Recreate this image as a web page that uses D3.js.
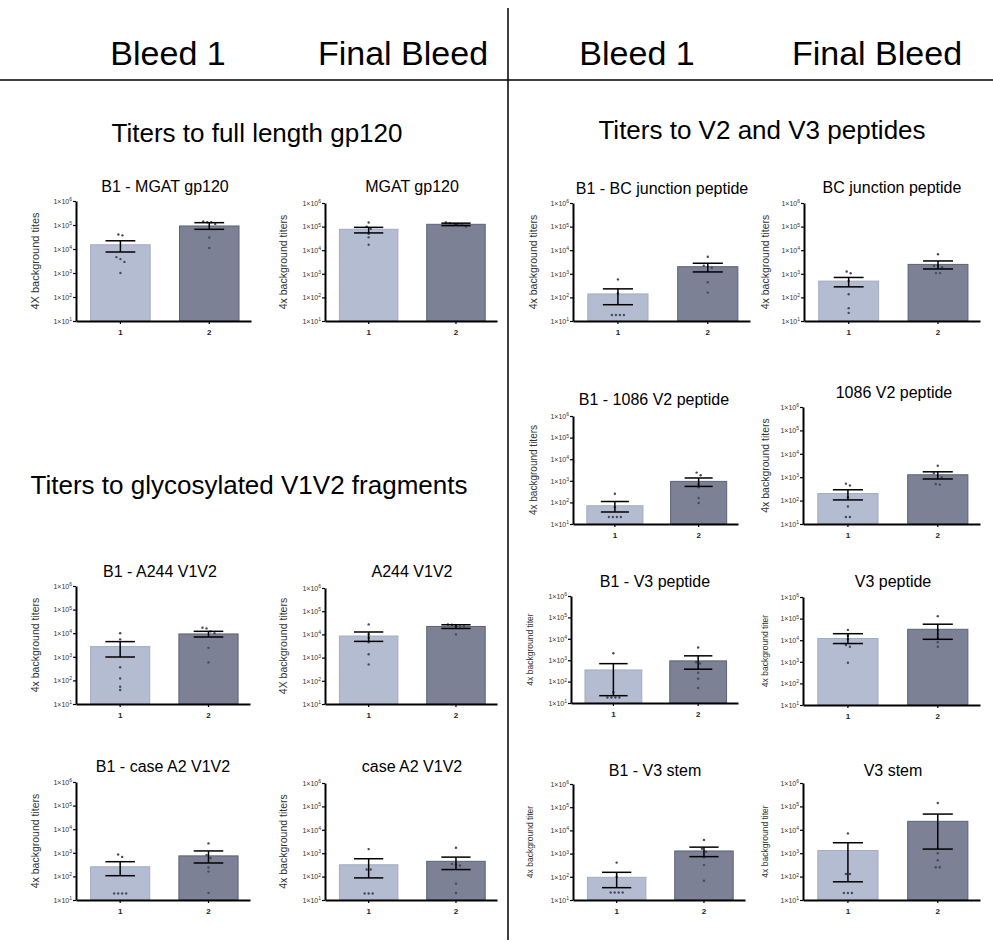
<!DOCTYPE html>
<html>
<head>
<meta charset="utf-8">
<script src="https://cdn.jsdelivr.net/npm/d3@7"></script>
<style>
    body {margin: 0; background: #fff;}
    svg {font-family: "Liberation Sans", Arial, sans-serif;}
</style>
</head>
<body>
<svg id="chart" width="993" height="950"></svg>
<script>
// values (titers, log scale)
const groups = ["1", "2"]
const yTicks = [1e1, 1e2, 1e3, 1e4, 1e5, 1e6]

const panelTitles = [
    "B1 - MGAT gp120", "MGAT gp120",
    "B1 - BC junction peptide", "BC junction peptide",
    "B1 - 1086 V2 peptide", "1086 V2 peptide",
    "B1 - A244 V1V2", "A244 V1V2",
    "B1 - V3 peptide", "V3 peptide",
    "B1 - case A2 V1V2", "case A2 V1V2",
    "B1 - V3 stem", "V3 stem"
]

const yLabels = [
    "4X background tites", "4x background titers",
    "4x background titers", "4x background titers",
    "4x background titers", "4x background titers",
    "4x background titers", "4X background titers",
    "4x background titer", "4x background titer",
    "4x background titers", "4x background titers",
    "4x background titer", "4x background titer"
]

const barMeans = [
    [1.5e4, 9.1e4], [7.7e4, 1.25e5],
    [1.4e2, 2.0e3], [4.9e2, 2.5e3],
    [70, 9.4e2], [2.0e2, 1.27e3],
    [2.7e3, 9.3e3], [8.5e3, 2.2e4],
    [3.5e2, 9.3e2], [1.2e4, 3.2e4],
    [2.55e2, 7.4e2], [3.2e2, 4.5e2],
    [95, 1.3e3], [1.3e3, 2.3e4]
]

const errLow = [
    [7.5e3, 6.6e4], [5.4e4, 1.1e5],
    [49, 1.2e3], [2.8e2, 1.6e3],
    [36, 5.5e2], [1.07e2, 8.4e2],
    [9.8e2, 6.9e3], [5.0e3, 1.8e4],
    [22, 3.8e2], [7.0e3, 1.1e4],
    [1.07e2, 3.7e2], [88, 2.0e2],
    [34, 7.4e2], [60, 1.5e3]
]

const errHigh = [
    [2.2e4, 1.25e5], [9.3e4, 1.4e5],
    [2.3e2, 2.8e3], [7.0e2, 3.5e3],
    [1.1e2, 1.35e3], [2.9e2, 1.7e3],
    [4.4e3, 1.2e4], [1.27e4, 2.6e4],
    [6.9e2, 1.6e3], [2.0e4, 5.5e4],
    [4.2e2, 1.2e3], [5.8e2, 6.8e2],
    [1.56e2, 1.9e3], [2.8e3, 4.7e4]
]

const points = [
    [[4e4, 3.7e4, 4.6e3, 3.8e3, 2.9e3, 1.0e3], [1.4e5, 1.3e5, 1.3e5, 1.1e5, 3e4, 1.1e4]],
    [[1.5e5, 1.0e5, 8e4, 5e4, 3.5e4, 1.7e4], [1.5e5, 1.4e5, 1.3e5, 1.3e5, 1.2e5, 1.0e5]],
    [[5.8e2, 1.5e2, 18, 18, 18, 18], [5.3e3, 2.2e3, 2.0e3, 1.8e3, 4.4e2, 1.6e2]],
    [[1.26e3, 1.05e3, 5e2, 1.35e2, 35, 22], [6.7e3, 2.2e3, 2.2e3, 1.9e3, 1.07e3, 1.07e3]],
    [[2.5e2, 60, 21, 21, 21, 21], [2.4e3, 1.8e3, 7e2, 5e2, 1.6e2, 94]],
    [[5.3e2, 4.4e2, 1.4e2, 56, 20, 20], [3.1e3, 1.5e3, 1.2e3, 1.0e3, 5.1e2, 4.8e2]],
    [[1e4, 5.5e3, 3.6e2, 1.2e2, 54, 39], [1.7e4, 1.6e4, 1.2e4, 1e4, 2.4e3, 5.8e2]],
    [[2.7e4, 1e4, 7e3, 4.6e3, 1.4e3, 5.1e2], [2.7e4, 2.6e4, 2.5e4, 2.2e4, 2.2e4, 1.0e4]],
    [[2.1e3, 32, 18, 18, 18, 18], [3.9e3, 8e2, 7e2, 2.6e2, 1.35e2, 50]],
    [[3e4, 1.6e4, 1.1e4, 6e3, 5e3, 9e2], [1.3e5, 3e4, 2e4, 1.3e4, 8e3, 5e3]],
    [[8.5e2, 6.7e2, 19, 19, 19, 19], [2.5e3, 8e2, 6e2, 2.4e2, 1.6e2, 20]],
    [[1.5e3, 2e2, 2e2, 19, 19, 19], [1.7e3, 3.5e2, 3.3e2, 3e2, 50, 20]],
    [[4.1e2, 1e2, 21, 21, 21, 21], [3.9e3, 1.6e3, 1.2e3, 7e2, 3.2e2, 68]],
    [[7e3, 1.3e2, 1.3e2, 20, 20, 20], [1.4e5, 1.6e3, 1.0e3, 5e2, 2.5e2, 2.5e2]]
]

// layout of each small chart: axis x, axis end, top, bottom, title x, title baseline, label x, label size
const frames = [
    {x: 76, end: 251, top: 201, bottom: 321, tx: 165, ty: 192, lx: 35, ls: 11},
    {x: 325, end: 497, top: 203, bottom: 321, tx: 412, ty: 192, lx: 283, ls: 10.5},
    {x: 573, end: 750, top: 203, bottom: 321, tx: 662, ty: 194, lx: 533, ls: 10.5},
    {x: 804, end: 980, top: 203, bottom: 321, tx: 892, ty: 193, lx: 765, ls: 10.5},
    {x: 573, end: 738, top: 416, bottom: 524, tx: 654, ty: 405, lx: 533, ls: 10},
    {x: 803, end: 980, top: 407, bottom: 524, tx: 894, ty: 398, lx: 765, ls: 10.5},
    {x: 76, end: 250, top: 586, bottom: 704, tx: 160, ty: 577, lx: 35, ls: 10.5},
    {x: 325, end: 497, top: 588, bottom: 704, tx: 412, ty: 577, lx: 283, ls: 10.5},
    {x: 571, end: 738, top: 596, bottom: 703, tx: 655, ty: 587, lx: 530, ls: 8.5},
    {x: 803, end: 980, top: 597, bottom: 705, tx: 893, ty: 587, lx: 765, ls: 8.5},
    {x: 76, end: 250, top: 782, bottom: 900, tx: 163, ty: 772, lx: 35, ls: 10.5},
    {x: 325, end: 497, top: 783, bottom: 900, tx: 412, ty: 772, lx: 283, ls: 10.5},
    {x: 573, end: 745, top: 784, bottom: 900, tx: 655, ty: 776, lx: 530, ls: 8.5},
    {x: 803, end: 980, top: 783, bottom: 900, tx: 893, ty: 776, lx: 765, ls: 8.5}
]

const barFill = ["#b4bcd2", "#7c8195"]
const barStroke = ["#a3abc2", "#5d6275"]

const svg = d3.select("#chart")

// page frame: header line and divider
svg.append("line").attr("x1", 0).attr("x2", 993).attr("y1", 80).attr("y2", 80)
    .attr("stroke", "#000").attr("stroke-width", 1.5)
svg.append("line").attr("x1", 508).attr("x2", 508).attr("y1", 8).attr("y2", 940)
    .attr("stroke", "#000").attr("stroke-width", 1.5)

const headers = [["Bleed 1", 168], ["Final Bleed", 403], ["Bleed 1", 637], ["Final Bleed", 877]]
svg.selectAll(".header").data(headers).enter().append("text")
    .attr("class", "header")
    .attr("x", d => d[1]).attr("y", 65)
    .attr("text-anchor", "middle")
    .attr("font-size", 34)
    .text(d => d[0])

const sections = [["Titers to full length gp120", 257, 142], ["Titers to V2 and V3 peptides", 762, 139],
    ["Titers to glycosylated V1V2 fragments", 249, 494]]
svg.selectAll(".section").data(sections).enter().append("text")
    .attr("class", "section")
    .attr("x", d => d[1]).attr("y", d => d[2])
    .attr("text-anchor", "middle")
    .attr("font-size", 26)
    .text(d => d[0])

frames.forEach((f, i) => {
    const g = svg.append("g")

    const x = d3.scaleBand()
        .domain(groups)
        .range([f.x, f.end])
        .paddingInner(0.33)
        .paddingOuter(0.15)
        .align(0.55)

    const y = d3.scaleLog()
        .domain([1e1, 1e6])
        .range([f.bottom, f.top])

    // bars
    g.selectAll("rect")
        .data(groups)
        .enter()
        .append("rect")
        .attr("x", d => x(d))
        .attr("y", (d, j) => y(barMeans[i][j]))
        .attr("width", x.bandwidth())
        .attr("height", (d, j) => f.bottom - y(barMeans[i][j]))
        .attr("fill", (d, j) => barFill[j])
        .attr("stroke", (d, j) => barStroke[j])
        .attr("stroke-width", 1)

    // individual animals, spread sideways when they sit on top of each other
    groups.forEach((grp, j) => {
        const cx = x(grp) + x.bandwidth() / 2
        const ys = points[i][j].map(v => y(v)).sort((a, b) => a - b)
        let clusters = []
        ys.forEach(py => {
            const last = clusters[clusters.length - 1]
            if (last && py - last[last.length - 1] < 3) last.push(py)
            else clusters.push([py])
        })
        clusters.forEach(c => {
            c.forEach((py, k) => {
                g.append("circle")
                    .attr("cx", cx + (k - (c.length - 1) / 2) * 4)
                    .attr("cy", py)
                    .attr("r", 1.2)
                    .attr("fill", "#444a5e")
            })
        })

        // mean +/- SEM
        const capW = x.bandwidth() * 0.25
        const yl = y(errLow[i][j]), yh = y(errHigh[i][j])
        g.append("line").attr("x1", cx).attr("x2", cx).attr("y1", yl).attr("y2", yh)
            .attr("stroke", "#000").attr("stroke-width", 1.5)
        g.append("line").attr("x1", cx - capW).attr("x2", cx + capW).attr("y1", yl).attr("y2", yl)
            .attr("stroke", "#000").attr("stroke-width", 1.5)
        g.append("line").attr("x1", cx - capW).attr("x2", cx + capW).attr("y1", yh).attr("y2", yh)
            .attr("stroke", "#000").attr("stroke-width", 1.5)
    })

    // axes
    const yAxis = g.append("g")
        .attr("transform", "translate(" + f.x + ",0)")
        .call(d3.axisLeft(y).tickValues(yTicks).tickSize(3).tickSizeOuter(0))
    yAxis.select(".domain").attr("stroke-width", 2)
    yAxis.selectAll(".tick line").attr("stroke-width", 1.2)
    yAxis.selectAll(".tick text")
        .attr("font-size", 7)
        .attr("fill", "#333")
        .attr("x", -4)
        .each(function (d) {
            const t = d3.select(this)
            t.text("1×10")
            t.append("tspan")
                .attr("dy", "-0.55em")
                .attr("font-size", 5)
                .text(Math.round(Math.log10(d)))
        })

    const xAxis = g.append("g")
        .attr("transform", "translate(0," + f.bottom + ")")
        .call(d3.axisBottom(x).tickSize(3).tickSizeOuter(0))
    xAxis.select(".domain").attr("stroke-width", 2)
    xAxis.selectAll(".tick line").attr("stroke-width", 1.2)
    xAxis.selectAll(".tick text")
        .attr("font-size", 8)
        .attr("font-weight", "bold")
        .attr("fill", "#222")
        .attr("y", 8)

    // title and y label
    g.append("text")
        .attr("x", f.tx).attr("y", f.ty)
        .attr("text-anchor", "middle")
        .attr("font-size", 16)
        .text(panelTitles[i])

    g.append("text")
        .attr("transform", "translate(" + f.lx + "," + (f.top + f.bottom) / 2 + ") rotate(-90)")
        .attr("text-anchor", "middle")
        .attr("dy", "0.35em")
        .attr("font-size", f.ls)
        .attr("fill", "#333")
        .text(yLabels[i])
})
</script>
</body>
</html>
